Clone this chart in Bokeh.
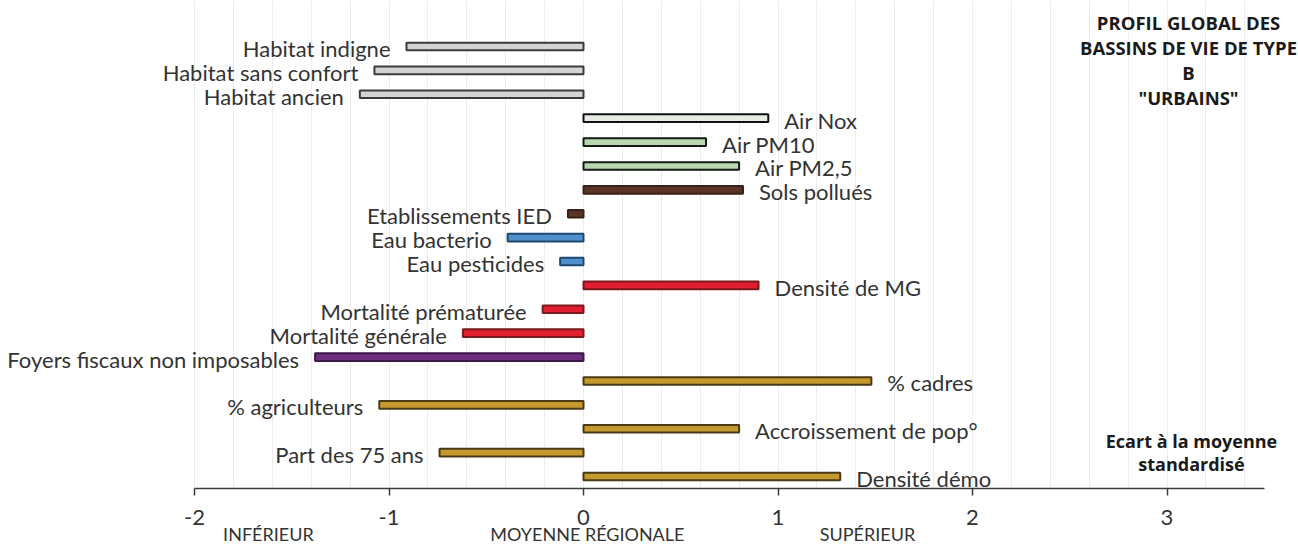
from bokeh.plotting import figure
from bokeh.models import (ColumnDataSource, Range1d, FixedTicker, SingleIntervalTicker,
                          Label, LinearAxis, Grid, BoxAnnotation)
from bokeh.core.properties import value
from bokeh.embed import file_html
from bokeh.resources import INLINE
import numpy as np

# ---- data ----
categories = [
    "Habitat indigne", "Habitat sans confort", "Habitat ancien",
    "Air Nox", "Air PM10", "Air PM2,5", "Sols pollués", "Etablissements IED",
    "Eau bacterio", "Eau pesticides", "Densité de MG", "Mortalité prématurée",
    "Mortalité générale", "Foyers fiscaux non imposables", "% cadres",
    "% agriculteurs", "Accroissement de pop°", "Part des 75 ans", "Densité démo",
]
values = [
    -0.91, -1.075, -1.15,
    0.95, 0.63, 0.80, 0.82, -0.08,
    -0.39, -0.12, 0.90, -0.21,
    -0.62, -1.38, 1.48,
    -1.05, 0.80, -0.74, 1.32,
]
groups = [
    "habitat", "habitat", "habitat",
    "nox", "pm", "pm", "sols", "sols",
    "eau", "eau", "sante", "sante",
    "sante", "revenu", "socio",
    "socio", "socio", "socio", "socio",
]
x_ticks = [-2, -1, 0, 1, 2, 3]
zone_labels = ["INFÉRIEUR", "MOYENNE RÉGIONALE", "SUPÉRIEUR"]
zone_x = [-1.62, 0.02, 1.46]
title_lines = ["PROFIL GLOBAL DES", "BASSINS DE VIE DE TYPE", "B", "\"URBAINS\""]
note_lines = ["Ecart à la moyenne", "standardisé"]

# ---- styles / layout ----
fill_map = {"habitat": "#d3d3d3", "nox": "#e6ebe4", "pm": "#b9d8b2", "sols": "#5c3427",
            "eau": "#4f8fcc", "sante": "#e01f30", "revenu": "#6c2e7d", "socio": "#c6992f"}
line_map = {"habitat": "#3a3a3a", "nox": "#111111", "pm": "#141a14", "sols": "#3a2018",
            "eau": "#1f4a70", "sante": "#7a1a1a", "revenu": "#3d1848", "socio": "#4a3a18"}
W, H = 1298, 548
X0_PX, PX_PER_UNIT = 583.0, 194.5        # pixel of x=0 and scale
ROW0_PX, ROW_PX = 46.0, 23.89            # pixel of first row and row spacing
AXIS_PX = 488.0


def xdata(px):
    return (px - X0_PX) / PX_PER_UNIT


def ydata(px):
    return (px - ROW0_PX) / ROW_PX


n = len(categories)
idx = np.arange(n)
vals = np.array(values)
src = ColumnDataSource(dict(
    y=idx, v=vals, zero=np.zeros(n),
    fill=[fill_map[g] for g in groups], line=[line_map[g] for g in groups],
    label=categories,
    align=["left" if v >= 0 else "right" for v in values],
    xoff=[16 if v >= 0 else -16 for v in values],
))

FONT = "Open Sans"
LFONT = "Lato"
p = figure(width=W, height=H, output_backend="svg", toolbar_location=None,
           x_range=Range1d(xdata(0), xdata(W)), y_range=Range1d(ydata(H), ydata(0)),
           x_axis_location=None, y_axis_location=None,
           min_border_left=0, min_border_right=0, min_border_top=0, min_border_bottom=0)
p.outline_line_color = None
p.background_fill_color = "white"
p.border_fill_color = "white"
p.center = [r for r in p.center if not isinstance(r, Grid)]

axis_y = ydata(AXIS_PX)
ax = LinearAxis(fixed_location=axis_y)
ax.ticker = FixedTicker(ticks=x_ticks)
ax.major_label_overrides = {t: str(t) for t in x_ticks}
ax.bounds = (-2.0, 3.5)
ax.axis_line_color = "#3c3c3c"
ax.axis_line_width = 1.5
ax.major_tick_line_color = "#3c3c3c"
ax.major_tick_line_width = 1.5
ax.major_tick_out = 7
ax.major_tick_in = 0
ax.minor_tick_line_color = None
ax.major_label_text_font = LFONT
ax.major_label_text_font_size = "22px"
ax.major_label_text_color = "#333333"
ax.major_label_standoff = 14
p.add_layout(ax, "below")

grid = Grid(dimension=0, ticker=SingleIntervalTicker(interval=0.2),
            grid_line_color="#ececec", grid_line_width=1, bounds=(-2.0, 3.5))
p.add_layout(grid)
p.add_layout(BoxAnnotation(bottom=axis_y, top=ydata(H), fill_color="white", fill_alpha=1.0,
                           line_color=None, level="underlay"))

p.hbar(y="y", left="zero", right="v", height=0.32, source=src,
       fill_color="fill", line_color="line", line_width=2)

p.text(x="v", y="y", text="label", source=src, x_offset="xoff", y_offset=2,
       text_align="align", text_baseline="middle", text_font=value(LFONT),
       text_font_size="22px", text_color="#333333")

zsrc = ColumnDataSource(dict(x=zone_x, y=[ydata(533)] * len(zone_x), t=zone_labels))
p.text(x="x", y="y", text="t", source=zsrc, text_align="center", text_baseline="middle",
       text_font=value(LFONT), text_font_size="18px", text_color="#333333")

for i, t in enumerate(title_lines):
    p.add_layout(Label(x=1188, y=H - (22 + i * 25), x_units="screen", y_units="screen",
                       text=t, text_align="center", text_baseline="middle",
                       text_font=FONT, text_font_style="bold", text_font_size="18.5px",
                       text_color="#1a1a1a"))
for i, t in enumerate(note_lines):
    p.add_layout(Label(x=1191, y=H - (440 + i * 23), x_units="screen", y_units="screen",
                       text=t, text_align="center", text_baseline="middle",
                       text_font=FONT, text_font_style="bold", text_font_size="18px",
                       text_color="#1a1a1a"))

open("out.html", "w").write(file_html(p, INLINE))
